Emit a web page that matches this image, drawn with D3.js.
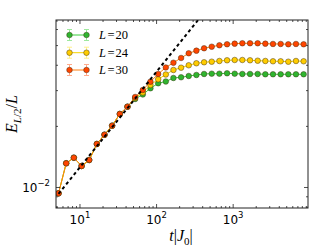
<!DOCTYPE html>
<html><head><meta charset="utf-8">
<script src="https://cdn.jsdelivr.net/npm/d3@7/dist/d3.min.js"></script>
<style>body{margin:0;background:#fff}svg{display:block}</style>
</head><body><svg id="c" width="332" height="248"></svg>
<script>
// ---- data ----
const times = [5.25, 6.61, 8.32, 10.5, 13.2, 16.6, 20.9, 26.3, 33.1, 41.7, 52.5, 66.1, 83.2, 105, 132, 166, 209, 263, 331, 417, 525, 661, 832, 1047, 1318, 1660, 2089, 2630, 3311, 4169, 5248, 6607, 8318];
const valuesL20 = [0.00936, 0.01316, 0.01402, 0.01276, 0.01366, 0.01638, 0.01820, 0.02016, 0.02302, 0.02500, 0.02729, 0.02872, 0.03081, 0.03260, 0.03328, 0.03463, 0.03490, 0.03542, 0.03583, 0.03624, 0.03636, 0.03636, 0.03652, 0.03636, 0.03624, 0.03624, 0.03624, 0.03611, 0.03611, 0.03611, 0.03611, 0.03611, 0.03611];
const valuesL24 = [0.00936, 0.01316, 0.01402, 0.01276, 0.01366, 0.01638, 0.01820, 0.02016, 0.02302, 0.02500, 0.02760, 0.02938, 0.03198, 0.03412, 0.03603, 0.03792, 0.03892, 0.03999, 0.04091, 0.04138, 0.04166, 0.04199, 0.04232, 0.04247, 0.04247, 0.04232, 0.04213, 0.04199, 0.04185, 0.04185, 0.04166, 0.04199, 0.04185];
const valuesL30 = [0.00936, 0.01316, 0.01402, 0.01276, 0.01366, 0.01638, 0.01820, 0.02016, 0.02302, 0.02500, 0.02792, 0.03022, 0.03320, 0.03624, 0.03901, 0.04119, 0.04345, 0.04583, 0.04720, 0.04850, 0.04939, 0.05018, 0.05075, 0.05110, 0.05133, 0.05133, 0.05133, 0.05110, 0.05093, 0.05093, 0.05075, 0.05093, 0.05075];
const seriesSizes = ["20", "24", "30"];
const dashT = [5.25, 400];
const dashV = [0.0093, 0.0713];
const xMajorTicks = [10, 100, 1000];
const xMajorExp = ["1", "2", "3"];
const yMajorTicks = [0.01];
const yMajorExp = ["\u22122"];
const xMinorTicks = [5,6,7,8,9,20,30,40,50,60,70,80,90,200,300,400,500,600,700,800,900,2000,3000,4000,5000,6000,7000,8000,9000];
const yMinorTicks = [0.008, 0.009, 0.02, 0.03, 0.04, 0.05, 0.06];

// ---- styles ----
const styles = [
  {fill: "#2fb52f", line: "#3ccc3c", err: "#9ee89e"},
  {fill: "#ffcc00", line: "#f5d300", err: "#fff08a"},
  {fill: "#ff4500", line: "#ff7f0e", err: "#ffab8c"}
];
const series = [valuesL20, valuesL24, valuesL30];

const m = {l: 56, r: 308, t: 20, b: 208};
const svg = d3.select("#c");
const x = d3.scaleLog().domain([4.864, 9484]).range([m.l, m.r]);
const y = d3.scaleLog().domain([0.007925, 0.06684]).range([m.b, m.t]);

svg.append("defs").append("clipPath").attr("id", "clip")
  .append("rect").attr("x", m.l).attr("y", m.t).attr("width", m.r - m.l).attr("height", m.b - m.t);

const plot = svg.append("g").attr("clip-path", "url(#clip)");
const line = d3.line().x(d => x(d[0])).y(d => y(d[1]));

series.forEach((vals, i) => {
  const pts = times.map((t, k) => [t, vals[k]]);
  const g = plot.append("g");
  g.append("path").attr("d", line(pts)).attr("fill", "none")
    .attr("stroke", styles[i].line).attr("stroke-width", 1);
  g.selectAll("circle").data(pts).join("circle")
    .attr("cx", d => x(d[0])).attr("cy", d => y(d[1])).attr("r", 2.8)
    .attr("fill", styles[i].fill).attr("stroke", "#3a2a10").attr("stroke-opacity", 0.75).attr("stroke-width", 0.6);
});

plot.append("path").attr("d", line(dashT.map((t, k) => [t, dashV[k]])))
  .attr("fill", "none").attr("stroke", "#000").attr("stroke-width", 2)
  .attr("stroke-dasharray", "3.2,2.9");

// ---- axes frame & ticks (inward on all sides) ----
const ax = svg.append("g").attr("stroke", "#222").attr("stroke-width", 0.8);
const tick = (x1, y1, x2, y2) => ax.append("line").attr("x1", x1).attr("y1", y1).attr("x2", x2).attr("y2", y2);
xMajorTicks.forEach(v => { const px = x(v); tick(px, m.b, px, m.b - 4); tick(px, m.t, px, m.t + 4); });
xMinorTicks.forEach(v => { const px = x(v); tick(px, m.b, px, m.b - 2); tick(px, m.t, px, m.t + 2); });
yMajorTicks.forEach(v => { const py = y(v); tick(m.l, py, m.l + 4, py); tick(m.r, py, m.r - 4, py); });
yMinorTicks.forEach(v => { const py = y(v); tick(m.l, py, m.l + 2, py); tick(m.r, py, m.r - 2, py); });
svg.append("rect").attr("x", m.l).attr("y", m.t).attr("width", m.r - m.l).attr("height", m.b - m.t)
  .attr("fill", "none").attr("stroke", "#222").attr("stroke-width", 1);

// tick labels
const lf = "DejaVu Sans, sans-serif";
xMajorTicks.forEach((v, i) => {
  const t = svg.append("text").attr("x", x(v)).attr("y", 223.5).attr("text-anchor", "middle")
    .attr("font-family", lf).attr("font-size", 12).attr("fill", "#000");
  t.append("tspan").text("10");
  t.append("tspan").attr("dy", -5.5).attr("font-size", 8.5).text(xMajorExp[i]);
});
yMajorTicks.forEach((v, i) => {
  const t = svg.append("text").attr("x", 50).attr("y", y(v) + 4.3).attr("text-anchor", "end")
    .attr("font-family", lf).attr("font-size", 12).attr("fill", "#000");
  t.append("tspan").text("10");
  t.append("tspan").attr("dy", -5.5).attr("font-size", 8.5).text(yMajorExp[i]);
});

// axis labels
const sf = "Liberation Serif, DejaVu Serif, serif";
const xl = svg.append("text").attr("x", 181).attr("y", 241).attr("text-anchor", "middle")
  .attr("font-family", sf).attr("font-size", 16).attr("fill", "#000");
xl.append("tspan").attr("font-style", "italic").text("t");
xl.append("tspan").text("|");
xl.append("tspan").attr("font-style", "italic").text("J");
xl.append("tspan").attr("dy", 3.5).attr("font-size", 11).text("0");
xl.append("tspan").attr("dy", -3.5).text("|");

const yl = svg.append("text").attr("transform", "translate(17,114) rotate(-90)").attr("text-anchor", "middle")
  .attr("font-family", sf).attr("font-size", 16).attr("fill", "#000");
yl.append("tspan").attr("font-style", "italic").text("E");
yl.append("tspan").attr("dy", 3.5).attr("font-size", 11).attr("font-style", "italic").text("L");
yl.append("tspan").attr("font-size", 11).text("/2");
yl.append("tspan").attr("dy", -3.5).text("/");
yl.append("tspan").attr("font-style", "italic").text("L");

// legend
const legRows = [35, 52.7, 70];
seriesSizes.forEach((s, i) => {
  const g = svg.append("g");
  const yy = legRows[i];
  g.append("line").attr("x1", 69.5).attr("x2", 86.5).attr("y1", yy).attr("y2", yy)
    .attr("stroke", styles[i].line).attr("stroke-width", 1);
  [69.5, 86.5].forEach(cx => {
    g.append("line").attr("x1", cx).attr("x2", cx).attr("y1", yy - 5.5).attr("y2", yy + 5.5)
      .attr("stroke", styles[i].err).attr("stroke-width", 1);
    [yy - 5.5, yy + 5.5].forEach(cy => g.append("line").attr("x1", cx - 2.5).attr("x2", cx + 2.5)
      .attr("y1", cy).attr("y2", cy).attr("stroke", styles[i].err).attr("stroke-width", 1));
    g.append("circle").attr("cx", cx).attr("cy", yy).attr("r", 2.8).attr("fill", styles[i].fill)
      .attr("stroke", "#3a2a10").attr("stroke-opacity", 0.75).attr("stroke-width", 0.6);
  });
  const t = g.append("text").attr("x", 99).attr("y", yy + 4.2).attr("font-family", sf)
    .attr("font-size", 12.5).attr("fill", "#000");
  t.append("tspan").attr("font-style", "italic").text("L");
  t.append("tspan").attr("dx", 1.5).text("=");
  t.append("tspan").attr("dx", 1).text(s);
});
</script>
</body></html>
